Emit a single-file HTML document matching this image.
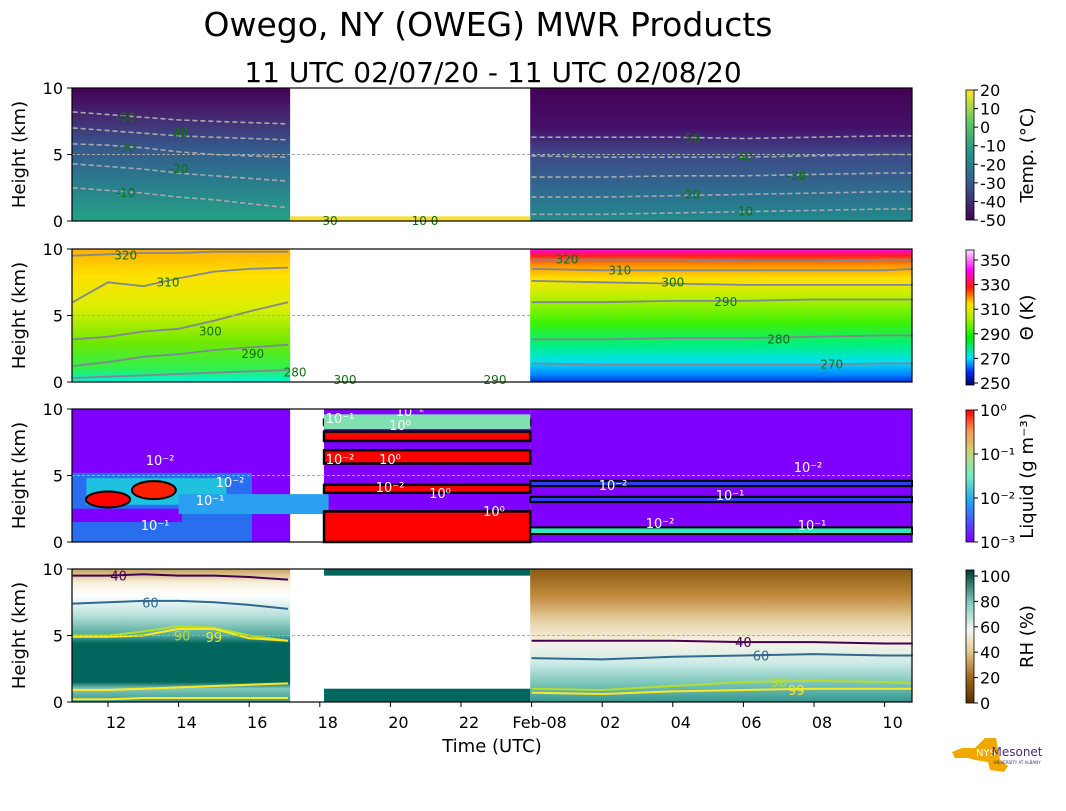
<!DOCTYPE html>
<html><head><meta charset="utf-8"><style>
body{margin:0;background:#fff;width:1066px;height:806px;overflow:hidden}
svg text{font-family:"DejaVu Sans","Liberation Sans",sans-serif}
</style></head><body>
<svg id="chart" width="1066" height="806" xmlns="http://www.w3.org/2000/svg">
<defs>
<linearGradient id="gT1" x1="0" y1="0" x2="0" y2="1"><stop offset="0" stop-color="#440154"/><stop offset="0.2" stop-color="#46256e"/><stop offset="0.45" stop-color="#35598c"/><stop offset="0.7" stop-color="#2a7b8e"/><stop offset="1" stop-color="#26a184"/></linearGradient>
<linearGradient id="gT2" x1="0" y1="0" x2="0" y2="1"><stop offset="0" stop-color="#440154"/><stop offset="0.3" stop-color="#45106a"/><stop offset="0.5" stop-color="#3e4a89"/><stop offset="0.75" stop-color="#30698e"/><stop offset="1" stop-color="#238a8d"/></linearGradient>
<linearGradient id="gP1" x1="0" y1="0" x2="0" y2="1"><stop offset="0" stop-color="#ffb000"/><stop offset="0.2" stop-color="#ffe000"/><stop offset="0.45" stop-color="#d8f000"/><stop offset="0.7" stop-color="#70e800"/><stop offset="0.9" stop-color="#30f050"/><stop offset="1" stop-color="#00f0e0"/></linearGradient>
<linearGradient id="gP2" x1="0" y1="0" x2="0" y2="1"><stop offset="0" stop-color="#ff00ff"/><stop offset="0.05" stop-color="#ff2020"/><stop offset="0.12" stop-color="#ff9000"/><stop offset="0.22" stop-color="#ffe000"/><stop offset="0.35" stop-color="#c0f000"/><stop offset="0.55" stop-color="#40f000"/><stop offset="0.72" stop-color="#00f080"/><stop offset="0.85" stop-color="#00e0f0"/><stop offset="0.95" stop-color="#0080ff"/><stop offset="1" stop-color="#0030d0"/></linearGradient>
<linearGradient id="gR1" x1="0" y1="0" x2="0" y2="1"><stop offset="0" stop-color="#c9a05a"/><stop offset="0.1" stop-color="#f6efdc"/><stop offset="0.2" stop-color="#ffffff"/><stop offset="0.35" stop-color="#b7e0da"/><stop offset="0.5" stop-color="#4ea99c"/><stop offset="0.56" stop-color="#01665e"/><stop offset="0.85" stop-color="#01665e"/><stop offset="0.9" stop-color="#80c8b8"/><stop offset="1" stop-color="#35978f"/></linearGradient>
<linearGradient id="gR2" x1="0" y1="0" x2="0" y2="1"><stop offset="0" stop-color="#8c5a10"/><stop offset="0.2" stop-color="#c08a3c"/><stop offset="0.4" stop-color="#e8d5a8"/><stop offset="0.55" stop-color="#f8f3e6"/><stop offset="0.7" stop-color="#d0ece8"/><stop offset="0.85" stop-color="#80c8bc"/><stop offset="1" stop-color="#35978f"/></linearGradient>
<linearGradient id="cbT" x1="0" y1="1" x2="0" y2="0"><stop offset="0" stop-color="#440154"/><stop offset="0.25" stop-color="#3b528b"/><stop offset="0.5" stop-color="#21918c"/><stop offset="0.75" stop-color="#5ec962"/><stop offset="1" stop-color="#fde725"/></linearGradient>
<linearGradient id="cbP" x1="0" y1="1" x2="0" y2="0"><stop offset="0" stop-color="#000060"/><stop offset="0.1" stop-color="#0030ff"/><stop offset="0.2" stop-color="#00e0ff"/><stop offset="0.35" stop-color="#00f000"/><stop offset="0.5" stop-color="#b0f000"/><stop offset="0.6" stop-color="#ffe000"/><stop offset="0.72" stop-color="#ff2000"/><stop offset="0.85" stop-color="#ff00ff"/><stop offset="1" stop-color="#ffe0ff"/></linearGradient>
<linearGradient id="cbL" x1="0" y1="1" x2="0" y2="0"><stop offset="0" stop-color="#7f00ff"/><stop offset="0.3" stop-color="#20a0f0"/><stop offset="0.5" stop-color="#70f0c0"/><stop offset="0.7" stop-color="#d0d070"/><stop offset="0.85" stop-color="#ff9050"/><stop offset="1" stop-color="#ff0000"/></linearGradient>
<linearGradient id="cbR" x1="0" y1="1" x2="0" y2="0"><stop offset="0" stop-color="#543005"/><stop offset="0.2" stop-color="#a6691a"/><stop offset="0.4" stop-color="#e6cf96"/><stop offset="0.55" stop-color="#f5f5f5"/><stop offset="0.75" stop-color="#80cdc1"/><stop offset="1" stop-color="#003c30"/></linearGradient>
</defs>
<g id="root"></g>
</svg>
<script>
// time axis data (hours since 00 UTC 02/07)
const tickHours=[12,14,16,18,20,22,24,26,28,30,32,34];
const tickLabels=["12","14","16","18","20","22","Feb-08","02","04","06","08","10"];
const heightTicks=[0,5,10];
// contour series: times and heights (km)
const tLeft=[11,12,13,14,15,16,17.1];
const tRight=[24,26,28,30,32,34,34.8];
const tempLevels=[-50,-40,-30,-20,-10];
const tempLeft=[[8.2,8.0,7.8,7.6,7.5,7.4,7.3],[7.0,6.8,6.6,6.4,6.3,6.2,6.1],[5.8,5.7,5.5,5.2,5.0,4.9,4.8],[4.3,4.1,3.9,3.6,3.4,3.2,3.0],[2.5,2.3,2.1,1.8,1.6,1.3,1.0]];
const tempRight=[[6.3,6.3,6.3,6.2,6.3,6.4,6.4],[4.9,4.8,4.8,4.8,4.9,5.0,5.0],[3.3,3.3,3.4,3.4,3.5,3.6,3.6],[1.8,1.8,1.9,2.0,2.1,2.2,2.2],[0.5,0.5,0.6,0.7,0.8,0.9,0.9]];
const thetaLevels=[320,310,300,290,280];
const thetaLeft=[[9.5,9.6,9.7,9.7,9.8,9.8,9.8],[6.0,7.5,7.2,7.8,8.3,8.5,8.6],[3.2,3.4,3.8,4.0,4.6,5.3,6.0],[1.2,1.5,1.9,2.1,2.4,2.6,2.8],[0.3,0.4,0.5,0.6,0.7,0.8,0.9]];
const thetaRightLevels=[320,310,300,290,280,270];
const thetaRight=[[9.2,9.2,9.2,9.1,9.1,9.2,9.2],[8.5,8.4,8.4,8.4,8.4,8.4,8.5],[7.6,7.5,7.4,7.3,7.3,7.3,7.3],[6.0,6.0,6.1,6.1,6.2,6.2,6.2],[3.2,3.2,3.3,3.3,3.4,3.5,3.5],[1.4,1.3,1.3,1.3,1.3,1.4,1.4]];
const rhLevels=[40,60,90,99];
const rhLeft=[[9.5,9.5,9.6,9.5,9.5,9.4,9.2],[7.4,7.5,7.6,7.6,7.5,7.3,7.0],[5.0,5.0,5.3,5.7,5.6,5.0,4.6],[4.9,4.9,5.0,5.5,5.5,4.8,4.6]];
const rhRight=[[4.6,4.6,4.6,4.5,4.5,4.4,4.4],[3.3,3.2,3.4,3.5,3.6,3.5,3.5],[1.0,0.9,1.2,1.5,1.6,1.5,1.4],[0.7,0.6,0.8,0.9,1.0,1.0,1.0]];
// liquid band layers in middle segment: [bottom km, top km]
const liquidRedBands=[[0,2.3],[3.7,4.3],[5.9,6.9],[7.6,8.3],[8.8,9.2]];
const liquidRightBands=[[0.6,1.1],[3.0,3.4],[4.2,4.6]];

const NS="http://www.w3.org/2000/svg";
const root=document.getElementById('root');
function el(tag,attrs,parent){const e=document.createElementNS(NS,tag);for(const k in attrs)e.setAttribute(k,attrs[k]);(parent||root).appendChild(e);return e;}
function X(h){return 72.7+(h-11)*35.3;}
const X0=72,X1=912,GAP0=X(17.16),GAP1=X(23.96),MID0=X(18.12);
const tops=[88,249,409,569],PH=133;
function Y(p,z){return tops[p]+(10-z)/10*PH;}
function line(p,ts,zs,stroke,w,dash,name){
  let d='';ts.forEach((t,i)=>{d+=(i?'L':'M')+X(t).toFixed(1)+','+Y(p,zs[i]).toFixed(1);});
  const e=el('path',{d:d,fill:'none',stroke:stroke,'stroke-width':w});
  if(dash)e.setAttribute('stroke-dasharray',dash);
  
  
  return e;
}
function label(x,y,txt,color,size,name,anchor){
  const t=el('text',{x:x,y:y,fill:color,'font-size':size,'text-anchor':anchor||'middle'});
  t.textContent=txt;
  
  
  return t;
}
function rect(x,y,w,h,fill,name){const r=el('rect',{x:x,y:y,width:w,height:h,fill:fill});return r;}

// titles
label(488,36,"Owego, NY (OWEG) MWR Products","#000",33,'chart-title');
label(493,82,"11 UTC 02/07/20 - 11 UTC 02/08/20","#000",28,'chart-subtitle');

// Panel 0 temperature
rect(X0,tops[0],GAP0-X0,PH,'url(#gT1)','temp-left-field');
rect(GAP1,tops[0],X1-GAP1,PH,'url(#gT2)','temp-right-field');
rect(GAP0,Y(0,0.35),GAP1-GAP0,Y(0,0)-Y(0,0.35),'#f5e030','temp-mid-strip');
tempLevels.forEach((lv,i)=>{
  line(0,tLeft,tempLeft[i],'#a8a8b0',1.6,'5,3','temp-contour-left');
  line(0,tRight,tempRight[i],'#a8a8b0',1.6,'5,3','temp-contour-right');
  label(X(12.5+ (i%2)*1.5),Y(0,tempLeft[i][2])+4,String(lv),'#107010',12,'temp-contour-label');
  label(X(30+(i%3)*1.5-1.5),Y(0,tempRight[i][3])+4,String(lv),'#107010',12,'temp-contour-label');
});
label(330,225,"30",'#107010',12,'temp-contour-label');label(425,225,"10  0",'#107010',12,'temp-contour-label');

// Panel 1 theta
rect(X0,tops[1],GAP0-X0,PH,'url(#gP1)','theta-left-field');
rect(GAP1,tops[1],X1-GAP1,PH,'url(#gP2)','theta-right-field');
thetaLevels.forEach((lv,i)=>{
  line(1,tLeft,thetaLeft[i],'#808890',1.8,null,'theta-contour-left');
  label(X(12.5+i*1.2),Y(1,thetaLeft[i][i%6])+4,String(lv),'#107010',12,'theta-contour-label');
});
thetaRightLevels.forEach((lv,i)=>{
  line(1,tRight,thetaRight[i],'#808890',1.8,null,'theta-contour-right');
  label(X(25+i*1.5),Y(1,thetaRight[i][1])+4,String(lv),'#107010',12,'theta-contour-label');
});
label(345,384,"300",'#107010',12,'theta-contour-label');label(495,384,"290",'#107010',12,'theta-contour-label');

// Panel 2 liquid
rect(X0,tops[2],GAP0-X0,PH,'#7f00ff','liquid-left-field');
rect(MID0,tops[2],GAP1-MID0,PH,'#7f00ff','liquid-mid-field');
rect(GAP1,tops[2],X1-GAP1,PH,'#7f00ff','liquid-right-field');
rect(X0,Y(2,5.2),180,Y(2,0)-Y(2,5.2)-0,'#2a6ef0','liquid-left-cloud');
rect(X0,Y(2,2.5),110,Y(2,1.5)-Y(2,2.5),'#7f00ff','liquid-left-gap');
rect(X(11.5)-4,Y(2,4.8),140,Y(2,2.8)-Y(2,4.8),'#20c0e0','liquid-left-core');
el('ellipse',{cx:X(12),cy:Y(2,3.2),rx:22,ry:8,fill:'#ff0000',stroke:'#000','stroke-width':2});
el('ellipse',{cx:X(13.3),cy:Y(2,3.9),rx:22,ry:9,fill:'#ff2000',stroke:'#000','stroke-width':2});
rect(X(14),Y(2,3.6),150,Y(2,2.1)-Y(2,3.6),'#2aa0f0','liquid-left-tail');
liquidRedBands.forEach(b=>{const r=rect(MID0,Y(2,b[1]),GAP1-MID0,Y(2,b[0])-Y(2,b[1]),'#ff0000','liquid-red-band');r.setAttribute('stroke','#000');r.setAttribute('stroke-width','2.5');});
rect(MID0,Y(2,9.6),GAP1-MID0,Y(2,8.5)-Y(2,9.6),'#80e0b0','liquid-top-band');
liquidRightBands.forEach((b,i)=>{const r=rect(GAP1,Y(2,b[1]),X1-GAP1,Y(2,b[0])-Y(2,b[1]),i==0?'#30e8c0':'#3040f0','liquid-right-band');r.setAttribute('stroke','#000');r.setAttribute('stroke-width','2');});
[['10⁻²',160,465],['10⁻¹',210,505],['10⁻²',230,487],['10⁻¹',155,530],['10⁻²',340,464],['10⁰',390,464],['10⁻²',390,492],['10⁰',440,498],['10⁰',494,516],['10⁻²',613,490],['10⁻²',808,472],['10⁻¹',730,500],['10⁻¹',812,530],['10⁻²',660,528],['10⁻¹',340,423],['10⁰',400,430],['10⁻²',410,416]].forEach(a=>label(a[1],a[2],a[0],'#fff',13,'liquid-contour-label'));

// Panel 3 RH
rect(X0,tops[3],GAP0-X0,PH,'url(#gR1)','rh-left-field');
rect(GAP1,tops[3],X1-GAP1,PH,'url(#gR2)','rh-right-field');
rect(MID0,tops[3],GAP1-MID0,Y(3,9.5)-tops[3],'#01665e','rh-mid-top');
rect(MID0,Y(3,1),GAP1-MID0,Y(3,0)-Y(3,1),'#01665e','rh-mid-bottom');
const rhCol=['#440154','#31688e','#b5de2b','#fde725'];
rhLevels.forEach((lv,i)=>{
  line(3,tLeft,rhLeft[i],rhCol[i],2,null,'rh-contour-left');
  line(3,tRight,rhRight[i],rhCol[i],2,null,'rh-contour-right');
  label(X(12.3+i*0.9),Y(3,rhLeft[i][1])+5,String(lv),rhCol[i],13,'rh-contour-label');
  label(X(30+i*0.5),Y(3,rhRight[i][3])+5,String(lv),rhCol[i],13,'rh-contour-label');
});
line(3,tLeft,[0.9,0.9,1.0,1.1,1.2,1.3,1.4],'#fde725',2,null,'rh-contour-left');
line(3,tLeft,[0.2,0.2,0.3,0.3,0.3,0.3,0.3],'#fde725',2,null,'rh-contour-left');

// dashed 5km lines, axes frames, ticks
for(let p=0;p<4;p++){
  el('line',{x1:X0,x2:X1,y1:Y(p,5),y2:Y(p,5),stroke:'#aaa','stroke-width':1,'stroke-dasharray':'3,2'});
  const f=el('rect',{x:X0,y:tops[p],width:X1-X0,height:PH,fill:'none',stroke:'#000','stroke-width':1.2});
  
  heightTicks.forEach(z=>{el('line',{x1:X0-5,x2:X0,y1:Y(p,z),y2:Y(p,z),stroke:'#000'});label(X0-9,Y(p,z)+6,String(z),'#000',16,'y-tick-label','end');});
  const yl=el('text',{x:0,y:0,'font-size':18,'text-anchor':'middle',transform:`translate(25,${tops[p]+PH/2}) rotate(-90)`});
  yl.textContent='Height (km)';
}
tickHours.forEach((h,i)=>{
  el('line',{x1:X(h),x2:X(h),y1:tops[3]+PH,y2:tops[3]+PH+5,stroke:'#000'});
  label(X(h)+8,728,tickLabels[i],'#000',16,'x-tick-label');
});
label(492,752,"Time (UTC)","#000",18,'x-axis-title');

// colorbars
const cbs=[['url(#cbT)',90,220,'Temp. (°C)',['20','10','0','-10','-20','-30','-40','-50']],
 ['url(#cbP)',250,385,'Θ (K)',['350','330','310','290','270','250']],
 ['url(#cbL)',410,542,'Liquid (g m⁻³)',['10⁰','10⁻¹','10⁻²','10⁻³']],
 ['url(#cbR)',570,703,'RH (%)',['100','80','60','40','20','0']]];
cbs.forEach((c,ci)=>{
  const r=rect(966,c[1],8,c[2]-c[1],c[0],'colorbar');r.setAttribute('stroke','#000');r.setAttribute('stroke-width','0.8');
  const n=c[4].length;
  c[4].forEach((t,i)=>{
    let y;
    if(ci==1){y=c[1]+10+i*(c[2]-c[1]-12)/(n-1);} else if(ci==3){y=c[1]+6+i*(c[2]-c[1]-6)/(n-1);} else y=c[1]+i*(c[2]-c[1])/(n-1);
    el('line',{x1:974,x2:978,y1:y,y2:y,stroke:'#000'});
    label(980,y+6,t,'#000',16,'colorbar-tick-label','start');
  });
  const yl=el('text',{x:0,y:0,'font-size':18,'text-anchor':'middle',transform:`translate(1033,${(c[1]+c[2])/2}) rotate(-90)`});
  yl.textContent=c[3];
});

// logo
const lg=el('g',{});
el('path',{d:'M952,752 L962,748 L975,748 L985,738 L996,738 L1000,760 L1008,766 L1004,772 L990,770 L988,762 L975,760 L968,758 L955,758 Z',fill:'#f0a800'},lg);
label(986,756,"NYS",'#fff',10,'logo-nys');
label(1017,756,"Mesonet",'#4b2c73',12,'logo-mesonet');
label(1017,764,"UNIVERSITY AT ALBANY",'#4b2c73',4,'logo-ualbany');
</script>
</body></html>
